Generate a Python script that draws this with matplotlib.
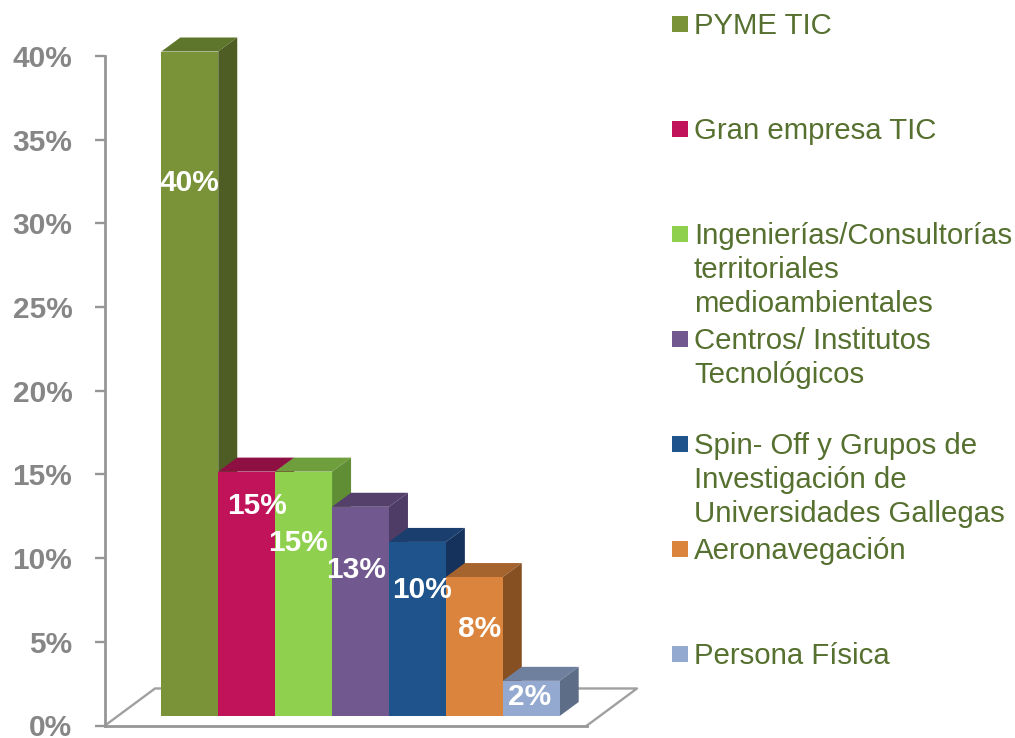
import matplotlib
matplotlib.use('Agg')
import matplotlib.pyplot as plt
from matplotlib.patches import Rectangle

plt.rcParams['font.family'] = ['Liberation Sans', 'DejaVu Sans']

# -----------------------------
# Data
# -----------------------------
categories = ['PYME TIC', 'Gran empresa TIC',
              'Ingenierías/Consultorías\nterritoriales\nmedioambientales',
              'Centros/ Institutos\nTecnológicos',
              'Spin- Off y Grupos de\nInvestigación de\nUniversidades Gallegas',
              'Aeronavegación', 'Persona Física']
values = [39.7, 14.6, 14.6, 12.5, 10.4, 8.3, 2.1]
value_labels = ['40%', '15%', '15%', '13%', '10%', '8%', '2%']
y_ticks = [0, 5, 10, 15, 20, 25, 30, 35, 40]

front_colors = ['#7A9339', '#C0135A', '#8FD14F', '#71588F', '#1F538B', '#DB843D', '#93A9CF']
top_colors = ['#5E752C', '#8E0F42', '#6F9E3C', '#54406B', '#1A3F6E', '#A5642E', '#6F809F']
side_colors = ['#4D5D24', '#7A0C38', '#5F8E34', '#4E3C66', '#15325C', '#865023', '#5D6D87']

# label centres in pixels, placed by hand like the original
label_px = [(189, 183), (257, 506), (298, 543), (356, 570), (422, 590), (480, 629), (530, 697)]

W, H = 1015, 738
GREY = '#969696'
TEXT_GREEN = '#56702F'
X_UNIT = 56.9   # pixels per bar
Y_UNIT = 16.725  # pixels per percent


def fx(px):
    return px / W


def fy(py):
    return 1 - py / H


fig = plt.figure(figsize=(W / 100, H / 100), dpi=100)
ax = fig.add_axes([fx(105), fy(725.5), (587 - 105) / W, (725.5 - 56) / H])
ax.set_xlim(-1.49, 6.98)
ax.set_ylim(0, 40)

for s in ['top', 'right']:
    ax.spines[s].set_visible(False)
for s in ['left', 'bottom']:
    ax.spines[s].set_color(GREY)
    ax.spines[s].set_linewidth(2.0)

ax.set_xticks([])
ax.set_yticks(y_ticks)
ax.set_yticklabels([f'{t}%' for t in y_ticks])
ax.tick_params(axis='y', length=7.5, width=1.7, color=GREY, pad=16,
               labelsize=21.5, labelcolor='#868686')
for lab in ax.get_yticklabels():
    lab.set_fontweight('bold')

# -----------------------------
# Floor of the fake 3D box
# -----------------------------
x0, x1 = ax.get_xlim()
floor_dx = 50 / X_UNIT
floor_dy = 37 / Y_UNIT
ax.plot([x0, x0 + floor_dx, x1 + floor_dx, x1], [0, floor_dy, floor_dy, 0],
        color='#A0A0A0', lw=1.7, clip_on=False, zorder=1)

# -----------------------------
# Bars: front with bar(), top and side as polygons
# -----------------------------
depth_x = 19 / X_UNIT
depth_y = 14 / Y_UNIT
base = 9.5 / Y_UNIT
half = 0.5

for i, v in enumerate(values):
    top = base + v
    z = 3 + i
    ax.fill([i - half, i - half + depth_x, i + half + depth_x, i + half],
            [top, top + depth_y, top + depth_y, top],
            color=top_colors[i], lw=0, clip_on=False, zorder=z)
    ax.fill([i + half, i + half + depth_x, i + half + depth_x, i + half],
            [base, base + depth_y, top + depth_y, top],
            color=side_colors[i], lw=0, clip_on=False, zorder=z)
    ax.bar(i, v, width=1, bottom=base, color=front_colors[i], lw=0,
           clip_on=False, zorder=z)

for (px, py), lab in zip(label_px, value_labels):
    fig.text(fx(px), fy(py), lab, color='white', fontsize=21.5, fontweight='bold',
             ha='center', va='center', zorder=20)

# -----------------------------
# Legend, spaced by hand
# -----------------------------
LINE_H = 33.8
for i, name in enumerate(categories):
    cy = 24 + 105 * i
    fig.add_artist(Rectangle((fx(672), fy(cy + 8)), 16 / W, 16 / H,
                             transform=fig.transFigure, color=front_colors[i], lw=0))
    for j, line in enumerate(name.split('\n')):
        fig.text(fx(694), fy(cy - 1 + j * LINE_H), line, color=TEXT_GREEN, fontsize=21.2,
                 ha='left', va='center_baseline')

fig.savefig('out.png', dpi=100)
